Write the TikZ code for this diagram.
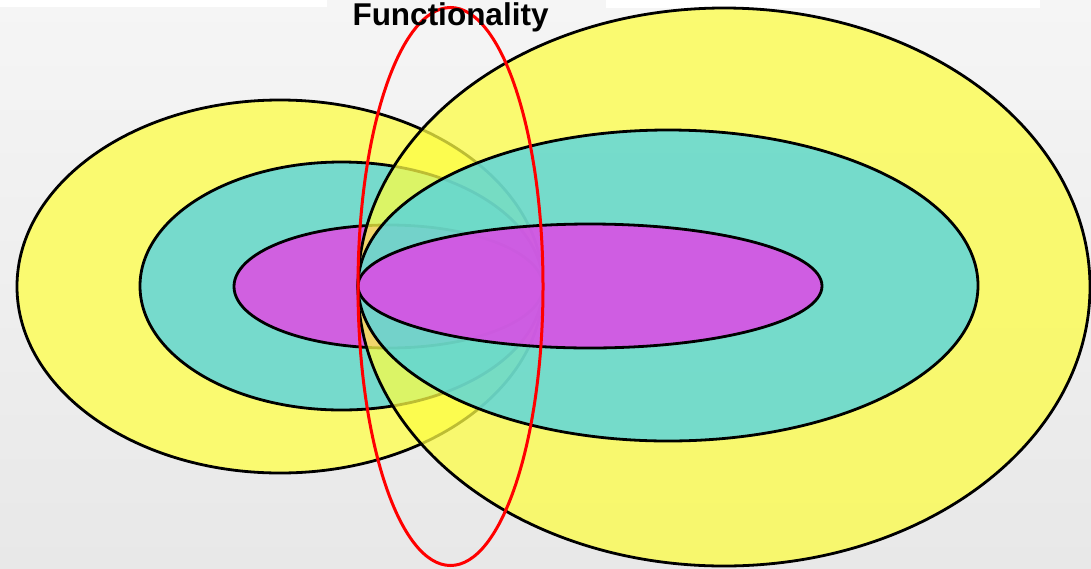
\documentclass[tikz,border=0pt]{standalone}
\usepackage{fontspec}
\setmainfont{Liberation Sans}
\usepackage{tikz}
\usetikzlibrary{shapes.geometric, positioning}

\definecolor{bgtop}{RGB}{245,245,245}
\definecolor{bgbot}{RGB}{232,232,232}
\definecolor{lyellow}{RGB}{250,250,112}
\definecolor{lcyan}{RGB}{118,218,204}
\definecolor{lmagenta}{RGB}{208,96,224}
\definecolor{ryellow}{RGB}{253,253,69}
\definecolor{rcyan}{RGB}{74,210,234}
\definecolor{rmagenta}{RGB}{238,52,235}

\begin{document}
\begin{tikzpicture}[
  x=1pt, y=-1pt,
  back/.style={draw=black, line width=2.8pt, fill=#1},
  front/.style={draw=black, line width=2.8pt, fill=#1, fill opacity=0.75},
  func/.style={draw=red, line width=3pt},
  title/.style={font=\fontsize{31.5}{31.5}\selectfont\bfseries, anchor=base, inner sep=0pt}
]
\useasboundingbox (0,0) rectangle (1091,568);
\clip (0,0) rectangle (1091,568);

% Background
\shade[top color=bgtop, bottom color=bgbot] (0,0) rectangle (1091,568);
\fill[white] (0,0) rectangle (327,7);
\fill[white] (606,0) rectangle (1040,8);

% Left rings
\draw[back=lyellow] (280,286.5) ellipse [x radius=263, y radius=186.5];
\draw[back=lcyan] (341.5,286) ellipse [x radius=201.5, y radius=124];
\draw[back=lmagenta] (388.5,286.5) ellipse [x radius=154.5, y radius=61.5];

% Right rings
\draw[front=ryellow] (724,287) ellipse [x radius=366, y radius=279];
\draw[front=rcyan] (668,285.5) ellipse [x radius=310, y radius=155.5];
\draw[front=rmagenta] (590,286) ellipse [x radius=232, y radius=62];

% Functionality
\draw[func] (450.5,286.5) ellipse [x radius=92.5, y radius=279];
\node[title] (functionality) at (450.5,25.5) {Functionality};

\end{tikzpicture}
\end{document}
